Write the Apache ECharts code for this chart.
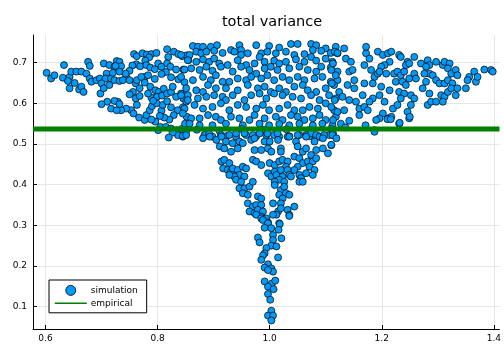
<!DOCTYPE html>
<html>
<head>
<meta charset="utf-8">
<title>total variance</title>
<script src="https://cdn.jsdelivr.net/npm/echarts@6/dist/echarts.min.js"></script>
<style>
  html, body { margin: 0; padding: 0; background: #ffffff; }
  #chart { width: 504px; height: 346px; }
</style>
</head>
<body>
<div id="chart"></div>
<script>
// Simulated total variance: [parameter, variance] pairs, grouped by region of the plot.
const leftWing = [
  [0.602,0.675],[0.610,0.661],[0.616,0.669],[0.631,0.663],[0.633,0.694],[0.643,0.665],[0.646,0.678],[0.655,0.678],
  [0.664,0.678],[0.652,0.650],[0.640,0.655],[0.643,0.637],[0.660,0.634],[0.664,0.641],[0.668,0.628],[0.676,0.702],
  [0.679,0.692],[0.673,0.673],[0.679,0.661],[0.682,0.653],[0.691,0.657],[0.697,0.661],[0.704,0.698],[0.714,0.694],
  [0.723,0.690],[0.727,0.704],[0.732,0.702],[0.735,0.691],[0.744,0.665],[0.709,0.673],[0.707,0.661],[0.700,0.649],
  [0.698,0.624],[0.704,0.637],[0.714,0.645],[0.717,0.661],[0.723,0.657],[0.732,0.655],[0.738,0.657],[0.750,0.657],
  [0.761,0.649],[0.763,0.657],[0.777,0.665],[0.777,0.651],[0.768,0.637],[0.756,0.628],[0.750,0.622],[0.761,0.612],
  [0.768,0.618],[0.763,0.596],[0.753,0.583],[0.744,0.587],[0.735,0.583],[0.729,0.604],[0.723,0.606],[0.710,0.604],
  [0.700,0.598],[0.717,0.587],[0.727,0.583],[0.732,0.598],[0.757,0.575],[0.767,0.565],[0.777,0.559],[0.780,0.571],
  [0.786,0.583],[0.790,0.593],[0.789,0.614],[0.783,0.624],[0.787,0.641],[0.796,0.632],[0.802,0.628],[0.799,0.616],
  [0.808,0.619],[0.811,0.636],[0.817,0.624],[0.824,0.628],[0.827,0.641],[0.833,0.616],[0.842,0.624],[0.846,0.612],
  [0.851,0.604],[0.854,0.620],[0.845,0.590],[0.836,0.583],[0.829,0.571],[0.821,0.560],[0.812,0.565],[0.807,0.582],
  [0.809,0.596],[0.817,0.605],[0.824,0.590],[0.798,0.600],[0.792,0.606],[0.804,0.569],[0.796,0.555],[0.789,0.560],
  [0.805,0.542],[0.815,0.542],[0.824,0.538],[0.834,0.534],[0.843,0.537],[0.849,0.550],[0.852,0.567],[0.845,0.518],
  [0.836,0.522],[0.827,0.528],[0.820,0.516],[0.801,0.534],[0.851,0.532],
  [0.758,0.721],[0.763,0.716],[0.773,0.723],[0.781,0.720],[0.789,0.721],[0.798,0.724],[0.785,0.713],[0.778,0.705],
  [0.762,0.696],[0.755,0.693],[0.769,0.691],[0.780,0.694],[0.787,0.688],[0.795,0.684],[0.801,0.698],[0.807,0.690],
  [0.817,0.733],[0.819,0.714],[0.829,0.727],[0.837,0.721],[0.844,0.716],[0.852,0.718],[0.855,0.706],[0.817,0.698],
  [0.823,0.690],[0.833,0.683],[0.846,0.683],[0.815,0.677],[0.824,0.664],[0.837,0.659],[0.848,0.652],[0.807,0.672],
  [0.795,0.660],[0.783,0.669],[0.771,0.665],[0.750,0.680],[0.743,0.673],[0.732,0.678],[0.725,0.692],[0.720,0.675]
];

const centreBand = [
  [0.863,0.741],[0.872,0.739],[0.881,0.739],[0.895,0.739],[0.906,0.743],[0.931,0.731],[0.946,0.743],[0.949,0.731],
  [0.976,0.743],[0.999,0.741],[1.017,0.737],[1.038,0.746],[1.050,0.746],[1.074,0.746],[1.083,0.743],[1.100,0.735],[1.118,0.739],
  [0.842,0.719],[0.857,0.719],[0.869,0.727],[0.878,0.723],[0.887,0.727],[0.901,0.729],[0.916,0.724],[0.937,0.727],
  [0.949,0.719],[0.961,0.723],[0.985,0.723],[0.996,0.727],[1.011,0.723],[1.029,0.727],[1.044,0.719],[1.062,0.721],
  [1.077,0.731],[1.092,0.729],[1.109,0.724],[1.121,0.723],
  [0.854,0.706],[0.869,0.702],[0.881,0.708],[0.892,0.702],[0.901,0.710],[0.910,0.698],[0.925,0.694],[0.943,0.706],
  [0.958,0.694],[0.973,0.698],[0.982,0.714],[0.991,0.702],[1.008,0.705],[1.017,0.698],[1.029,0.702],[1.047,0.708],
  [1.062,0.702],[1.074,0.714],[1.083,0.705],[1.100,0.710],[1.112,0.702],
  [0.848,0.683],[0.860,0.686],[0.875,0.682],[0.887,0.690],[0.898,0.680],[0.913,0.690],[0.934,0.678],[0.949,0.690],
  [0.964,0.682],[0.976,0.673],[0.991,0.686],[1.002,0.690],[1.014,0.682],[1.035,0.686],[1.053,0.690],[1.068,0.682],
  [1.083,0.678],[1.092,0.690],[1.109,0.688],[1.121,0.678],
  [0.842,0.665],[0.863,0.657],[0.881,0.665],[0.895,0.657],[0.904,0.669],[0.916,0.653],[0.928,0.653],[0.943,0.661],
  [0.958,0.657],[0.967,0.665],[0.985,0.661],[0.996,0.669],[1.008,0.657],[1.023,0.665],[1.035,0.657],[1.050,0.665],
  [1.062,0.657],[1.080,0.661],[1.094,0.665],[1.109,0.653],[1.121,0.657],
  [0.851,0.637],[0.869,0.632],[0.881,0.628],[0.890,0.645],[0.904,0.637],[0.922,0.637],[0.943,0.632],[0.961,0.645],
  [0.979,0.637],[0.991,0.641],[1.002,0.628],[1.017,0.637],[1.029,0.628],[1.044,0.641],[1.059,0.645],[1.068,0.632],
  [1.083,0.628],[1.100,0.637],[1.115,0.645],
  [0.842,0.620],[0.854,0.608],[0.872,0.612],[0.887,0.616],[0.901,0.620],[0.916,0.616],[0.922,0.608],[0.934,0.620],
  [0.955,0.608],[0.967,0.620],[0.982,0.624],[0.994,0.612],[1.008,0.624],[1.023,0.620],[1.041,0.616],[1.056,0.612],
  [1.074,0.620],[1.089,0.608],[1.106,0.620],[1.118,0.612],
  [0.848,0.587],[0.866,0.596],[0.881,0.587],[0.898,0.591],[0.913,0.600],[0.928,0.583],[0.943,0.596],[0.958,0.591],
  [0.976,0.587],[0.988,0.596],[0.999,0.583],[1.017,0.587],[1.032,0.596],[1.044,0.583],[1.059,0.583],[1.071,0.591],
  [1.086,0.587],[1.100,0.600],[1.115,0.583],
  [0.845,0.575],[0.860,0.563],[0.875,0.563],[0.890,0.571],[0.904,0.567],[0.913,0.559],[0.931,0.567],[0.946,0.563],
  [0.964,0.559],[0.973,0.571],[0.991,0.563],[1.011,0.567],[1.023,0.559],[1.038,0.571],[1.050,0.567],[1.062,0.559],
  [1.077,0.563],[1.089,0.571],[1.100,0.559],[1.118,0.567],
  [0.857,0.550],[0.875,0.546],[0.898,0.546],[0.922,0.550],[0.952,0.546],[0.982,0.550],[0.999,0.546],[1.017,0.549],
  [1.035,0.546],[1.053,0.550],[1.077,0.546],[1.094,0.550],[1.112,0.546],
  [0.870,0.535],[0.910,0.533],[0.950,0.537],[0.990,0.535],[1.030,0.536],[1.070,0.534],[1.110,0.537],
  [0.884,0.522],[0.898,0.518],[0.922,0.519],[0.940,0.518],[0.958,0.522],[0.976,0.519],[0.994,0.522],[1.017,0.518],
  [1.035,0.519],[1.053,0.522],[1.071,0.519],[1.089,0.518],[1.106,0.522]
];

const rightWing = [
  [1.116,0.727],[1.121,0.724],[1.113,0.698],[1.110,0.682],[1.118,0.669],[1.111,0.649],[1.124,0.628],[1.116,0.608],
  [1.130,0.616],[1.110,0.591],[1.121,0.579],[1.133,0.583],[1.113,0.559],[1.127,0.550],[1.142,0.557],[1.113,0.522],
  [1.133,0.735],[1.136,0.710],[1.145,0.702],[1.142,0.678],[1.148,0.682],[1.151,0.657],[1.139,0.645],[1.151,0.637],
  [1.142,0.608],[1.154,0.604],[1.160,0.587],[1.160,0.571],[1.169,0.591],[1.175,0.583],[1.184,0.612],[1.178,0.604],
  [1.166,0.620],[1.169,0.649],[1.172,0.723],[1.178,0.710],[1.169,0.694],[1.181,0.682],[1.187,0.665],[1.193,0.673],
  [1.184,0.649],[1.199,0.641],[1.196,0.620],[1.205,0.604],[1.202,0.575],[1.196,0.563],[1.190,0.559],[1.187,0.534],
  [1.171,0.546],[1.135,0.541],[1.172,0.739],[1.193,0.727],[1.202,0.719],[1.211,0.723],[1.217,0.727],[1.214,0.702],
  [1.205,0.694],[1.199,0.690],[1.196,0.678],[1.208,0.673],[1.222,0.673],[1.228,0.678],[1.234,0.669],[1.240,0.678],
  [1.225,0.653],[1.237,0.653],[1.243,0.645],[1.231,0.628],[1.214,0.632],[1.240,0.624],[1.252,0.620],[1.258,0.612],
  [1.252,0.596],[1.246,0.579],[1.249,0.563],[1.231,0.550],[1.211,0.563],[1.217,0.567],[1.220,0.587],[1.228,0.596],
  [1.234,0.612],[1.231,0.719],[1.234,0.714],[1.246,0.702],[1.243,0.694],[1.249,0.698],[1.258,0.714],[1.258,0.673],
  [1.261,0.661],[1.249,0.661],[1.270,0.698],[1.282,0.706],[1.285,0.694],[1.279,0.690],[1.297,0.702],[1.309,0.694],
  [1.312,0.702],[1.321,0.698],[1.318,0.686],[1.285,0.673],[1.276,0.673],[1.291,0.669],[1.297,0.657],[1.303,0.649],
  [1.312,0.649],[1.318,0.657],[1.324,0.673],[1.332,0.682],[1.335,0.669],[1.326,0.649],[1.279,0.653],[1.273,0.637],
  [1.285,0.624],[1.282,0.596],[1.288,0.604],[1.297,0.604],[1.306,0.620],[1.312,0.616],[1.309,0.604],[1.318,0.628],
  [1.324,0.637],[1.335,0.637],[1.332,0.620],[1.350,0.637],[1.356,0.665],[1.365,0.678],[1.368,0.653],[1.353,0.657],
  [1.371,0.665],[1.383,0.683],[1.395,0.682],[1.398,0.678],
  [1.113,0.526],[1.110,0.497],[1.187,0.530],[1.232,0.552],[1.210,0.561],[1.216,0.561],[1.250,0.567]
];

const funnel = [
  [0.845,0.520],[0.851,0.522],[0.884,0.522],[0.892,0.525],[0.913,0.522],[0.928,0.522],[0.940,0.526],[0.955,0.526],
  [0.970,0.522],[0.982,0.526],[0.996,0.526],[1.008,0.522],[1.014,0.526],[1.032,0.518],[1.050,0.522],[1.065,0.522],
  [1.074,0.526],[1.083,0.522],[1.089,0.518],[1.097,0.522],[1.112,0.522],
  [0.881,0.514],[0.893,0.518],[0.905,0.510],[0.914,0.518],[0.922,0.506],[0.934,0.502],[0.946,0.506],[0.952,0.502],
  [0.967,0.510],[0.973,0.514],[0.991,0.506],[1.000,0.506],[1.015,0.510],[1.035,0.518],[1.047,0.506],[1.065,0.518],
  [1.080,0.506],[1.095,0.514],[1.110,0.498],[1.119,0.514],
  [0.911,0.494],[0.919,0.489],[0.931,0.481],[0.943,0.489],[0.973,0.485],[0.985,0.485],[0.997,0.489],[1.003,0.481],
  [1.020,0.489],[1.020,0.481],[1.050,0.494],[1.059,0.481],[1.065,0.489],[1.074,0.473],[1.083,0.485],[1.095,0.489],[1.104,0.477],
  [0.914,0.457],[0.919,0.461],[0.928,0.453],[0.917,0.440],[0.970,0.461],[0.976,0.457],[0.985,0.448],[1.000,0.453],
  [1.009,0.448],[1.017,0.457],[1.023,0.461],[1.032,0.457],[1.029,0.444],[1.044,0.469],[1.053,0.465],[1.059,0.453],
  [1.068,0.457],[1.077,0.457],[1.083,0.465],[1.050,0.444],[1.044,0.436],[1.071,0.444],[1.080,0.436],
  [0.925,0.436],[0.931,0.432],[0.934,0.440],[0.943,0.436],[0.952,0.444],[0.958,0.440],[0.946,0.424],[0.955,0.420],
  [0.937,0.420],[0.928,0.424],[0.940,0.412],[0.949,0.407],[0.997,0.428],[1.003,0.420],[1.009,0.432],[1.012,0.424],
  [1.020,0.436],[1.023,0.420],[1.032,0.436],[1.035,0.424],[1.017,0.412],[1.009,0.407],[1.038,0.420],[1.053,0.424],
  [1.056,0.416],[1.065,0.428],[1.077,0.424],[1.053,0.407],[1.059,0.407],[1.026,0.407],
  [0.946,0.391],[0.955,0.391],[0.964,0.395],[0.970,0.407],[0.952,0.379],[0.961,0.375],[0.979,0.371],[0.985,0.366],
  [1.009,0.399],[1.020,0.387],[1.026,0.395],[1.029,0.379],[1.017,0.375],[1.023,0.366],[1.035,0.375],
  [0.961,0.354],[0.970,0.346],[0.976,0.350],[0.985,0.350],[0.964,0.334],[0.973,0.330],[0.979,0.338],[0.988,0.334],
  [0.985,0.321],[0.994,0.317],[1.006,0.354],[1.020,0.354],[1.015,0.334],[1.020,0.342],[1.032,0.338],[1.044,0.346],
  [1.035,0.326],[1.012,0.326],[0.997,0.307],[1.017,0.305]
];

const stem = [
  [0.976,0.326],[0.985,0.317],[1.006,0.326],[1.035,0.323],[0.988,0.313],[0.997,0.305],[0.991,0.294],[1.003,0.293],
  [1.018,0.303],[1.016,0.289],[1.006,0.276],[1.021,0.268],[0.979,0.270],[0.982,0.258],[1.006,0.264],[1.003,0.250],
  [1.012,0.248],[0.994,0.244],[0.991,0.231],[0.988,0.226],[1.015,0.221],[0.985,0.215],[0.997,0.204],[0.991,0.196],
  [1.003,0.194],[1.006,0.186],[0.997,0.190],
  [0.991,0.162],[1.004,0.157],[1.010,0.164],[0.997,0.149],[1.007,0.143],[0.997,0.131],[1.001,0.117],[1.003,0.090],
  [0.997,0.078],[1.006,0.078],[1.003,0.066]
];

// Empirical total variance (horizontal reference level)
const empiricalLevel = 0.537;

// Axis ranges and tick labels
const xRange = [0.5777, 1.41];
const yRange = [0.045, 0.768];
const xTicks = [0.6, 0.8, 1.0, 1.2, 1.4];
const yTicks = [0.1, 0.2, 0.3, 0.4, 0.5, 0.6, 0.7];

const simulation = leftWing.concat(centreBand, rightWing, funnel, stem);

const font = 'DejaVu Sans';
const chart = echarts.init(document.getElementById('chart'), null, { renderer: 'canvas' });

chart.setOption({
  backgroundColor: '#ffffff',
  animation: false,
  title: {
    text: 'total variance',
    left: 267,
    textAlign: 'center',
    top: 10,
    textStyle: { fontFamily: font, fontSize: 14.5, fontWeight: 'normal', color: '#000000' }
  },
  grid: { left: 33, right: 4, top: 35, bottom: 17, containLabel: false },
  legend: {
    orient: 'vertical',
    left: 49,
    top: 280,
    padding: [5, 9, 5, 5],
    itemGap: 3,
    itemWidth: 32,
    itemHeight: 10,
    backgroundColor: '#ffffff',
    borderColor: '#000000',
    borderWidth: 1,
    borderRadius: 0,
    textStyle: { fontFamily: font, fontSize: 9, color: '#000000', padding: [0, 0, 0, -1] },
    data: [
      { name: 'simulation', icon: 'circle', itemStyle: { color: '#009af9', borderColor: '#000000', borderWidth: 0.8 } },
      { name: 'empirical', lineStyle: { width: 1.5, color: '#008000' }, itemStyle: { opacity: 0 } }
    ]
  },
  xAxis: {
    type: 'value',
    min: xRange[0],
    max: xRange[1],
    axisLine: { show: true, onZero: false, lineStyle: { color: '#000000', width: 1 } },
    axisTick: { show: true, inside: true, length: 4, customValues: xTicks, lineStyle: { color: '#000000' } },
    axisLabel: {
      customValues: xTicks,
      margin: 5,
      fontFamily: font,
      fontSize: 9,
      color: '#000000',
      formatter: v => v.toFixed(1)
    },
    splitLine: { show: true, lineStyle: { color: '#e6e6e6', width: 1 } }
  },
  yAxis: {
    type: 'value',
    min: yRange[0],
    max: yRange[1],
    axisLine: { show: true, onZero: false, lineStyle: { color: '#000000', width: 1 } },
    axisTick: { show: true, inside: true, length: 4, customValues: yTicks, lineStyle: { color: '#000000' } },
    axisLabel: {
      customValues: yTicks,
      margin: 6,
      fontFamily: font,
      fontSize: 9,
      color: '#000000',
      formatter: v => v.toFixed(1)
    },
    splitLine: { show: true, lineStyle: { color: '#e6e6e6', width: 1 } }
  },
  series: [
    {
      name: 'simulation',
      type: 'scatter',
      data: simulation,
      symbol: 'circle',
      symbolSize: 7,
      z: 2,
      itemStyle: { color: '#009af9', borderColor: '#000000', borderWidth: 0.7, opacity: 1 }
    },
    {
      name: 'empirical',
      type: 'line',
      data: [[xRange[0], empiricalLevel], [xRange[1], empiricalLevel]],
      symbol: 'none',
      showSymbol: false,
      z: 3,
      lineStyle: { color: '#008000', width: 5 },
      itemStyle: { color: '#008000' }
    }
  ]
});
</script>
</body>
</html>
